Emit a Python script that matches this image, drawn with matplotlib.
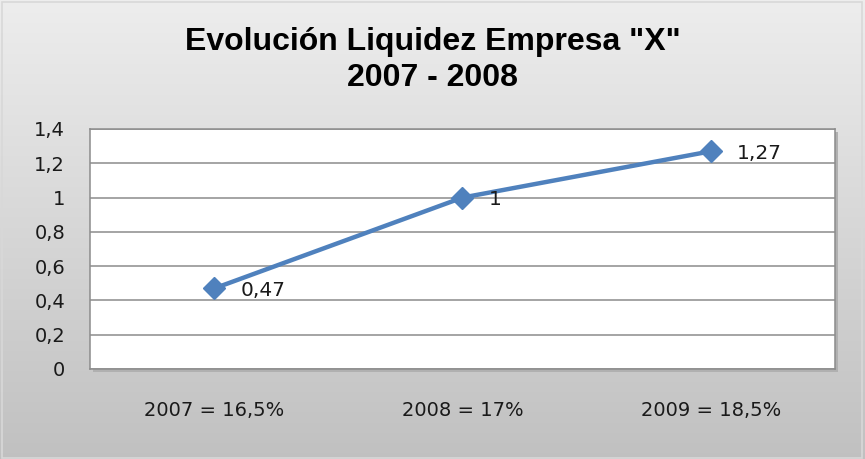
import matplotlib
matplotlib.use("Agg")
import matplotlib.pyplot as plt
import numpy as np
from matplotlib.patches import Rectangle

categories = ["2007 = 16,5%", "2008 = 17%", "2009 = 18,5%"]
values = [0.47, 1.0, 1.27]
value_labels = ["0,47", "1", "1,27"]
yticks = [0, 0.2, 0.4, 0.6, 0.8, 1.0, 1.2, 1.4]
ytick_labels = ["0", "0,2", "0,4", "0,6", "0,8", "1", "1,2", "1,4"]
title = 'Evolución Liquidez Empresa "X"\n2007 - 2008'

W, H = 865, 459
fig = plt.figure(figsize=(W / 100, H / 100), dpi=100)

# gradient background
bg = fig.add_axes([0, 0, 1, 1], zorder=-10)
grad = np.linspace(0, 1, 256).reshape(-1, 1)
top = np.array([0.93, 0.93, 0.93])
bot = np.array([0.755, 0.755, 0.755])
img = top[None, None, :] * (1 - grad[:, :, None]) + bot[None, None, :] * grad[:, :, None]
bg.imshow(img, aspect="auto", extent=[0, 1, 0, 1], origin="upper")
bg.add_patch(Rectangle((0.002, 0.003), 0.994, 0.992, fill=False, ec="#d8d8d8", lw=1.2,
                       transform=bg.transAxes))
bg.set_xlim(0, 1); bg.set_ylim(0, 1)
bg.axis("off")

l, r, t, b = 90, 835, 129, 369
ax = fig.add_axes([l / W, 1 - b / H, (r - l) / W, (b - t) / H])
# shadow
shadow = fig.add_axes([(l + 3) / W, 1 - (b + 3) / H, (r - l) / W, (b - t) / H], zorder=-5)
shadow.set_facecolor("#b0b0b0")
shadow.set_xticks([]); shadow.set_yticks([])
for s in shadow.spines.values():
    s.set_visible(False)

FONT = "DejaVu Sans"
ax.set_facecolor("white")
x = np.arange(len(categories))
ax.plot(x, values, color="#4F81BD", lw=3.2, marker="D", markersize=11,
        markerfacecolor="#4F81BD", markeredgecolor="#4F81BD", zorder=3, clip_on=False)
for xi, v, lab in zip(x, values, value_labels):
    ax.annotate(lab, (xi, v), xytext=(19, -1.5), textcoords="offset points",
                ha="left", va="center", fontsize=14.5, family=FONT, color="#1a1a1a")

ax.set_xlim(-0.5, 2.5)
ax.set_ylim(0, 1.4)
ax.set_yticks(yticks)
ax.set_yticklabels(ytick_labels, family=FONT, fontsize=14, color="#1a1a1a")
ax.set_xticks(x)
ax.set_xticklabels(categories, family=FONT, fontsize=14, color="#1a1a1a")
ax.tick_params(axis="both", length=0)
ax.tick_params(axis="y", pad=18)
ax.tick_params(axis="x", pad=23)
ax.grid(axis="y", color="#8c8c8c", lw=1.1)
ax.set_axisbelow(True)
for s in ax.spines.values():
    s.set_color("#8c8c8c")
    s.set_linewidth(1.1)

fig.text(0.5, 1 - 60 / H, title, ha="center", va="center", fontsize=23,
         fontweight="bold", family="Liberation Sans", color="black", linespacing=1.3)

fig.savefig("out.png", dpi=100)
